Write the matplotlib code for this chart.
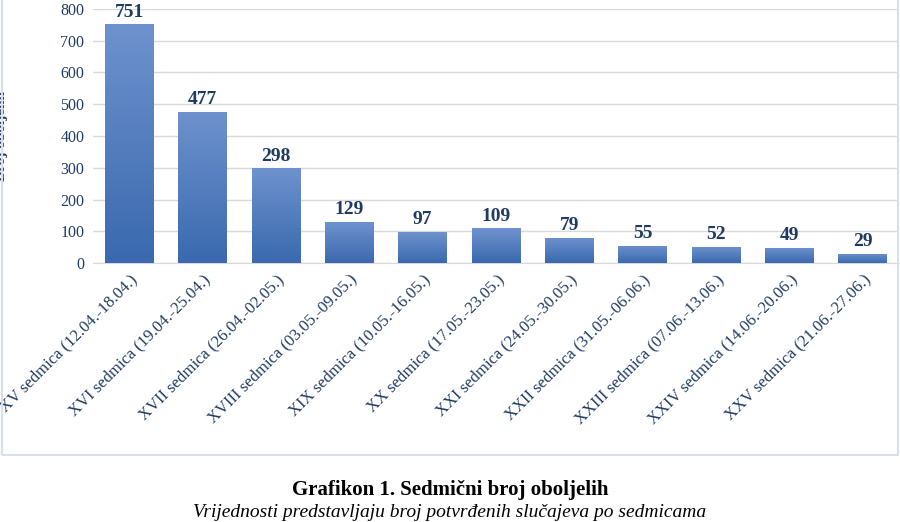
import numpy as np
import matplotlib.pyplot as plt
from matplotlib.patches import Rectangle

weeks = ["XV sedmica (12.04.-18.04.)", "XVI sedmica (19.04.-25.04.)",
         "XVII sedmica (26.04.-02.05.)", "XVIII sedmica (03.05.-09.05.)",
         "XIX sedmica (10.05.-16.05.)", "XX sedmica (17.05.-23.05.)",
         "XXI sedmica (24.05.-30.05.)", "XXII sedmica (31.05.-06.06.)",
         "XXIII sedmica (07.06.-13.06.)", "XXIV sedmica (14.06.-20.06.)",
         "XXV sedmica (21.06.-27.06.)"]
cases = [751, 477, 298, 129, 97, 109, 79, 55, 52, 49, 29]

navy = "#1F3A63"
plt.rcParams["font.family"] = "Liberation Serif"

fig = plt.figure(figsize=(9, 5.22), dpi=100)
fig.patches.append(Rectangle((0.002, 0.128), 0.996, 0.9, transform=fig.transFigure,
                             fill=False, edgecolor="#D6DFEA", linewidth=1.5))
ax = fig.add_axes([0.103, 0.496, 0.896, 0.487])

x = np.arange(len(cases))
bars = ax.bar(x, cases, width=0.66, color="none", zorder=3)
grad = np.linspace(0, 1, 256).reshape(-1, 1)
cmap = plt.matplotlib.colors.LinearSegmentedColormap.from_list("g", ["#3A69AF", "#6E92CD"])
for b, v in zip(bars, cases):
    im = ax.imshow(grad, cmap=cmap, aspect="auto", origin="lower",
                   extent=[b.get_x(), b.get_x() + b.get_width(), 0, v], zorder=3)
    im.set_clip_path(b)
    ax.text(b.get_x() + b.get_width() / 2, v + 12, str(v), ha="center", va="bottom",
            fontsize=14, fontweight="bold", color=navy, zorder=4)

ax.set_xlim(-0.5, len(cases) - 0.5)
ax.set_ylim(0, 800)
ax.set_yticks(range(0, 801, 100))
ax.grid(axis="y", color="#D9D9D9", linewidth=1, zorder=0)
for s in ["top", "right", "left"]:
    ax.spines[s].set_visible(False)
ax.spines["bottom"].set_color("#D9D9D9")
ax.tick_params(length=0, colors=navy, labelsize=11.5, pad=6)
ax.set_xticks(x)
ax.set_xticklabels(weeks, rotation=45, ha="right", rotation_mode="anchor", fontsize=12)
ax.set_ylabel("Broj oboljelih", fontsize=11, fontweight="bold", color=navy, labelpad=38)

fig.text(0.5, 0.061, "Grafikon 1. Sedmični broj oboljelih", ha="center", va="center",
         fontsize=15, fontweight="bold")
fig.text(0.5, 0.018, "Vrijednosti predstavljaju broj potvrđenih slučajeva po sedmicama",
         ha="center", va="center", fontsize=14, style="italic")

fig.savefig("out.png", dpi=100)
